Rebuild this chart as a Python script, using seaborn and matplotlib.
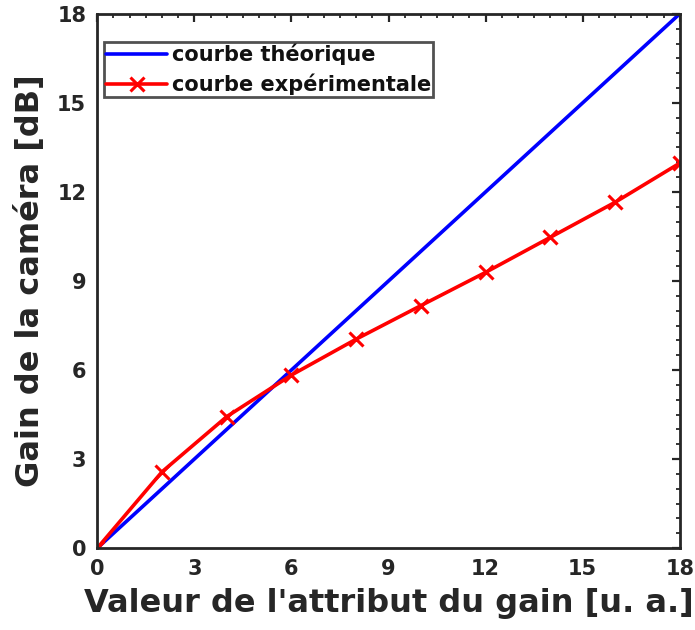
import matplotlib
matplotlib.use("Agg")
import matplotlib.pyplot as plt
from matplotlib.ticker import MultipleLocator
import numpy as np
import pandas as pd
import seaborn as sns

# Attribute values and measured gains
gain_attr = [0, 2, 4, 6, 8, 10, 12, 14, 16, 18]
gain_theory = [0, 2, 4, 6, 8, 10, 12, 14, 16, 18]
gain_measured = [0, 2.57, 4.43, 5.83, 7.04, 8.17, 9.29, 10.47, 11.65, 12.97]
tick_values = [0, 3, 6, 9, 12, 15, 18]

sns.set_theme(style="white")
plt.rcParams["font.family"] = ["DejaVu Sans"]
plt.rcParams["font.weight"] = "bold"

dark = "#262626"
df = pd.DataFrame({"x": gain_attr, "theory": gain_theory, "measured": gain_measured})

fig, ax = plt.subplots(figsize=(6.95, 6.3), dpi=100)
fig.subplots_adjust(left=0.14, right=0.978, bottom=0.13, top=0.978)

sns.lineplot(data=df, x="x", y="theory", ax=ax, color="#0000ff", lw=2.6,
             label="courbe théorique")
sns.lineplot(data=df, x="x", y="measured", ax=ax, color="#ff0000", lw=2.6,
             marker="x", markersize=10, markeredgewidth=2.2, markeredgecolor="#ff0000",
             label="courbe expérimentale")

ax.set_xlim(0, 18)
ax.set_ylim(0, 18)
ax.set_xticks(tick_values)
ax.set_yticks(tick_values)
ax.xaxis.set_minor_locator(MultipleLocator(0.5))
ax.yaxis.set_minor_locator(MultipleLocator(0.5))
ax.tick_params(which="both", direction="in", top=True, right=True, color=dark)
ax.tick_params(which="major", length=6, width=1.6, labelsize=15, labelcolor=dark, pad=8)
ax.tick_params(which="minor", length=3, width=1.3)
for lab in ax.get_xticklabels() + ax.get_yticklabels():
    lab.set_fontweight("bold")

for sp in ax.spines.values():
    sp.set_color(dark)
    sp.set_linewidth(2.0)

ax.set_xlabel("Valeur de l'attribut du gain [u. a.]", fontsize=23, fontweight="bold",
              color=dark, labelpad=6)
ax.set_ylabel("Gain de la caméra [dB]", fontsize=23, fontweight="bold",
              color=dark, labelpad=8)

leg = ax.legend(loc="upper left", bbox_to_anchor=(0.012, 0.9476), fontsize=15,
                frameon=True, fancybox=False, borderpad=0.1, handlelength=2.9,
                handletextpad=0.25, labelspacing=0.4, borderaxespad=0.0)
leg.get_frame().set_edgecolor(dark)
leg.get_frame().set_linewidth(2.0)
for t in leg.get_texts():
    t.set_fontweight("bold")
    t.set_color("#111111")

fig.savefig("out.png", dpi=100)
